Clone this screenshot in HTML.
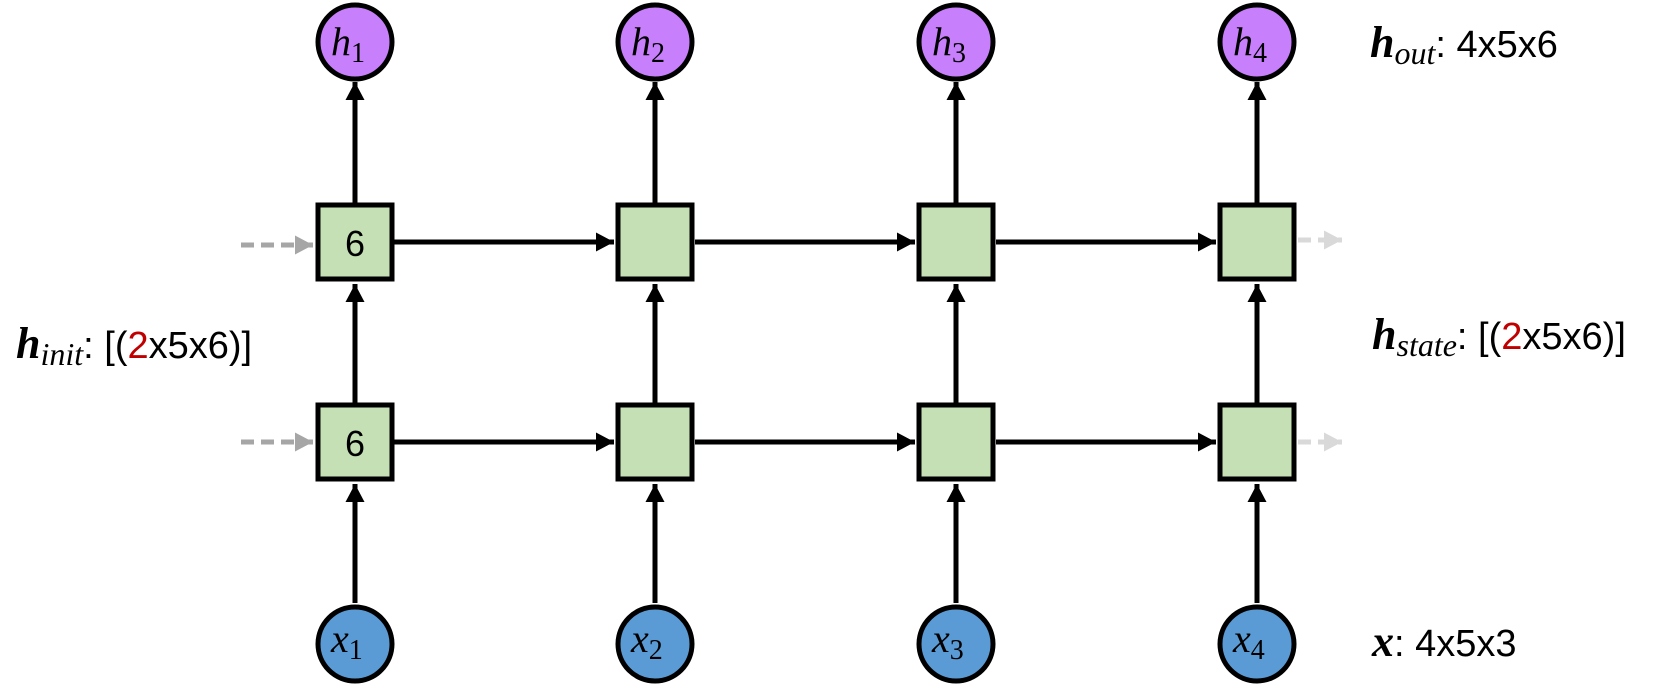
<!DOCTYPE html>
<html><head><meta charset="utf-8"><style>
html,body{margin:0;padding:0;background:#fff;}
svg{display:block;}
.m{font-family:"Liberation Serif",serif;font-style:italic;}
.t{font-family:"Liberation Sans",sans-serif;}
</style></head><body>
<svg width="1658" height="685" viewBox="0 0 1658 685" xmlns="http://www.w3.org/2000/svg">
<defs>
<marker id="a" markerWidth="4" markerHeight="4" refX="3.6" refY="2" orient="auto" markerUnits="strokeWidth"><path d="M0,0.1 L3.6,2 L0,3.9z" fill="#000"/></marker>
<marker id="g" markerWidth="4" markerHeight="4" refX="3.6" refY="2" orient="auto" markerUnits="strokeWidth"><path d="M0,0.1 L3.6,2 L0,3.9z" fill="#a6a6a6"/></marker>
<marker id="l" markerWidth="4" markerHeight="4" refX="3.6" refY="2" orient="auto" markerUnits="strokeWidth"><path d="M0,0.1 L3.6,2 L0,3.9z" fill="#d9d9d9"/></marker>
</defs>
<g stroke-width="5" fill="none">
<line x1="355" y1="603" x2="355" y2="484" stroke="#000" marker-end="url(#a)"/>
<line x1="355" y1="403" x2="355" y2="284" stroke="#000" marker-end="url(#a)"/>
<line x1="355" y1="203" x2="355" y2="82" stroke="#000" marker-end="url(#a)"/>
<line x1="655" y1="603" x2="655" y2="484" stroke="#000" marker-end="url(#a)"/>
<line x1="655" y1="403" x2="655" y2="284" stroke="#000" marker-end="url(#a)"/>
<line x1="655" y1="203" x2="655" y2="82" stroke="#000" marker-end="url(#a)"/>
<line x1="956" y1="603" x2="956" y2="484" stroke="#000" marker-end="url(#a)"/>
<line x1="956" y1="403" x2="956" y2="284" stroke="#000" marker-end="url(#a)"/>
<line x1="956" y1="203" x2="956" y2="82" stroke="#000" marker-end="url(#a)"/>
<line x1="1257" y1="603" x2="1257" y2="484" stroke="#000" marker-end="url(#a)"/>
<line x1="1257" y1="403" x2="1257" y2="284" stroke="#000" marker-end="url(#a)"/>
<line x1="1257" y1="203" x2="1257" y2="82" stroke="#000" marker-end="url(#a)"/>
<line x1="394" y1="242" x2="614" y2="242" stroke="#000" marker-end="url(#a)"/>
<line x1="695" y1="242" x2="915" y2="242" stroke="#000" marker-end="url(#a)"/>
<line x1="996" y1="242" x2="1216" y2="242" stroke="#000" marker-end="url(#a)"/>
<line x1="394" y1="442" x2="614" y2="442" stroke="#000" marker-end="url(#a)"/>
<line x1="695" y1="442" x2="915" y2="442" stroke="#000" marker-end="url(#a)"/>
<line x1="996" y1="442" x2="1216" y2="442" stroke="#000" marker-end="url(#a)"/>
<line x1="241" y1="245" x2="313" y2="245" stroke="#a6a6a6" stroke-dasharray="13,7" marker-end="url(#g)"/>
<line x1="241" y1="442" x2="313" y2="442" stroke="#a6a6a6" stroke-dasharray="13,7" marker-end="url(#g)"/>
<line x1="1298" y1="240" x2="1342" y2="240" stroke="#d9d9d9" stroke-dasharray="13,7" marker-end="url(#l)"/>
<line x1="1298" y1="442" x2="1342" y2="442" stroke="#d9d9d9" stroke-dasharray="13,7" marker-end="url(#l)"/>
</g>
<g fill="#c5e0b4" stroke="#000" stroke-width="5">
<rect x="318" y="205" width="74" height="74"/>
<rect x="618" y="205" width="74" height="74"/>
<rect x="919" y="205" width="74" height="74"/>
<rect x="1220" y="205" width="74" height="74"/>
<rect x="318" y="405" width="74" height="74"/>
<rect x="618" y="405" width="74" height="74"/>
<rect x="919" y="405" width="74" height="74"/>
<rect x="1220" y="405" width="74" height="74"/>
</g>
<g fill="#c77ffb" stroke="#000" stroke-width="5">
<circle cx="355" cy="42" r="37"/><circle cx="655" cy="42" r="37"/><circle cx="956" cy="42" r="37"/><circle cx="1257" cy="42" r="37"/>
</g>
<g fill="#5b9bd5" stroke="#000" stroke-width="5">
<circle cx="355" cy="644" r="37"/><circle cx="655" cy="644" r="37"/><circle cx="956" cy="644" r="37"/><circle cx="1257" cy="644" r="37"/>
</g>
<g class="t" font-size="36" text-anchor="middle" fill="#000">
<text x="355" y="256">6</text><text x="355" y="456">6</text>
</g>
<g class="m" font-size="40" fill="#000">
<text x="331" y="55">h<tspan font-style="normal" font-size="28" dy="7">1</tspan></text>
<text x="631" y="55">h<tspan font-style="normal" font-size="28" dy="7">2</tspan></text>
<text x="932" y="55">h<tspan font-style="normal" font-size="28" dy="7">3</tspan></text>
<text x="1233" y="55">h<tspan font-style="normal" font-size="28" dy="7">4</tspan></text>
<text x="331" y="652">x<tspan font-style="normal" font-size="28" dy="7">1</tspan></text>
<text x="631" y="652">x<tspan font-style="normal" font-size="28" dy="7">2</tspan></text>
<text x="932" y="652">x<tspan font-style="normal" font-size="28" dy="7">3</tspan></text>
<text x="1233" y="652">x<tspan font-style="normal" font-size="28" dy="7">4</tspan></text>
</g>
<text x="16" y="358" font-size="44" fill="#000"><tspan class="m" font-weight="bold">h</tspan><tspan class="m" font-size="32" dy="7">init</tspan><tspan class="t" font-size="38" dy="-7">: [(<tspan fill="#c00000">2</tspan>x5x6)]</tspan></text>
<text x="1370" y="57" font-size="44" fill="#000"><tspan class="m" font-weight="bold">h</tspan><tspan class="m" font-size="32" dy="7">out</tspan><tspan class="t" font-size="38" dy="-7">: 4x5x6</tspan></text>
<text x="1372" y="349" font-size="44" fill="#000"><tspan class="m" font-weight="bold">h</tspan><tspan class="m" font-size="32" dy="7">state</tspan><tspan class="t" font-size="38" dy="-7">: [(<tspan fill="#c00000">2</tspan>x5x6)]</tspan></text>
<text x="1372" y="656" font-size="44" fill="#000"><tspan class="m" font-weight="bold">x</tspan><tspan class="t" font-size="38">: 4x5x3</tspan></text>
</svg>
</body></html>
